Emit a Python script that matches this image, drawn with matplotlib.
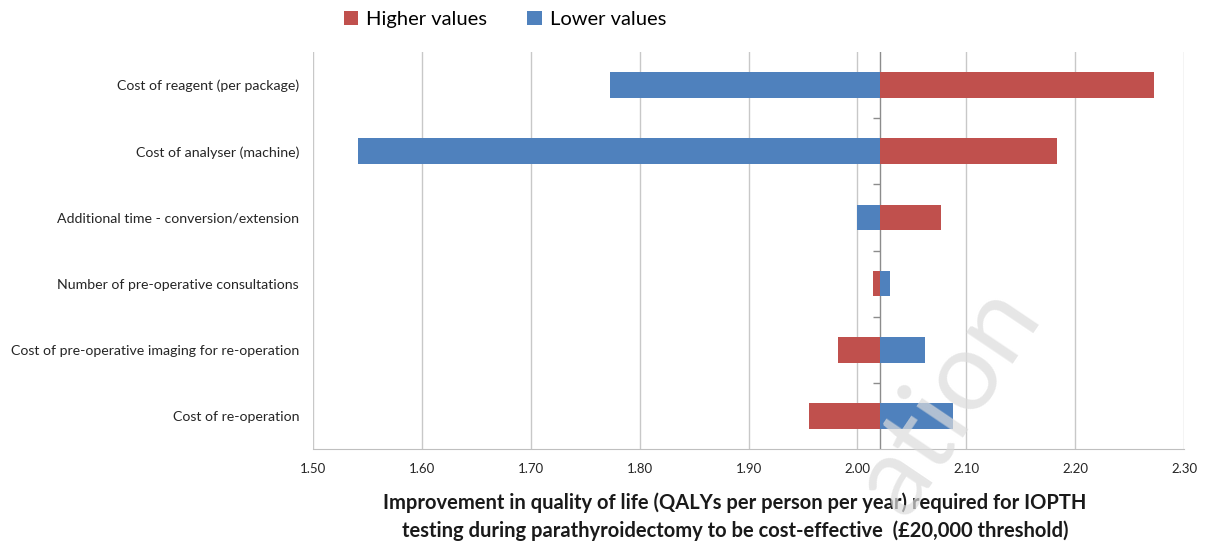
#!/usr/bin/env python3

import matplotlib
matplotlib.use("Agg")
import matplotlib.pyplot as plt
import matplotlib.ticker as tkr
import numpy as np

plt.rcParams['font.family'] = ['Lato', 'DejaVu Sans']

# data (top to bottom as in the chart)
params = ["Cost of reagent (per package)",
          "Cost of analyser (machine)",
          "Additional time - conversion/extension",
          "Number of pre-operative consultations",
          "Cost of pre-operative imaging for re-operation",
          "Cost of re-operation"]
base_value = 2.021
higher_values = [2.272, 2.183, 2.077, 2.014, 1.982, 1.956]
lower_values = [1.773, 1.541, 2.000, 2.030, 2.062, 2.088]
x_ticks = [1.50, 1.60, 1.70, 1.80, 1.90, 2.00, 2.10, 2.20, 2.30]

red = '#C0504D'
blue = '#4F81BD'

fig = plt.figure(figsize=(12.06, 5.48), dpi=100)
ax = fig.add_axes([313/1206, 1-449/548, 871/1206, 397/548])

y = np.arange(len(params))[::-1]
hi = np.array(higher_values)
lo = np.array(lower_values)

ax.barh(y, hi - base_value, left=base_value, height=0.39, color=red,
        label='Higher values', zorder=3)
ax.barh(y, lo - base_value, left=base_value, height=0.39, color=blue,
        label='Lower values', zorder=3)

ax.set_xlim(x_ticks[0], x_ticks[-1])
ax.set_ylim(-0.5, len(params) - 0.5)
ax.set_xticks(x_ticks)
ax.xaxis.set_major_formatter(tkr.FormatStrFormatter('%.2f'))
ax.set_yticks(y)
ax.set_yticklabels(params)
ax.tick_params(axis='y', length=0, pad=10, labelsize=10.2, labelcolor='#262626')
ax.tick_params(axis='x', length=0, pad=10, labelsize=9.5, labelcolor='#262626')

ax.grid(axis='x', color='#c8c8c8', lw=1, zorder=0)
for s in ['top', 'left', 'right']:
    ax.spines[s].set_visible(False)
ax.spines['bottom'].set_color('#bfbfbf')

# category axis crossing at the base value, with ticks between categories
ax.axvline(base_value, color='#8c8c8c', lw=1, zorder=2)
between = np.arange(len(params) - 1) + 0.5
ax.plot([base_value] * len(between), between, ls='none', marker=0,
        markersize=5, color='#8c8c8c', zorder=2)

ax.set_xlabel("Improvement in quality of life (QALYs per person per year) required for IOPTH\n"
              "testing during parathyroidectomy to be cost-effective  (\u00a320,000 threshold)",
              fontsize=14.5, fontweight='bold', linespacing=1.45,
              color='#1a1a1a')
ax.xaxis.set_label_coords((735 - 313) / 871, -0.11, transform=ax.transAxes)

ax.legend(loc='lower left', bbox_to_anchor=(336/1206, 1-36/548),
          bbox_transform=fig.transFigure, ncol=2, frameon=False,
          fontsize=14.5, handlelength=0.7, handleheight=0.7, handletextpad=0.4,
          columnspacing=2.0, borderaxespad=0)

# faint watermark
fig.text(948/1206, 1-400/548, "ation", rotation=56, fontsize=80,
         color='#dcdcdc', alpha=0.7, ha='center', va='center', zorder=10)

fig.savefig('out.png', dpi=100)
